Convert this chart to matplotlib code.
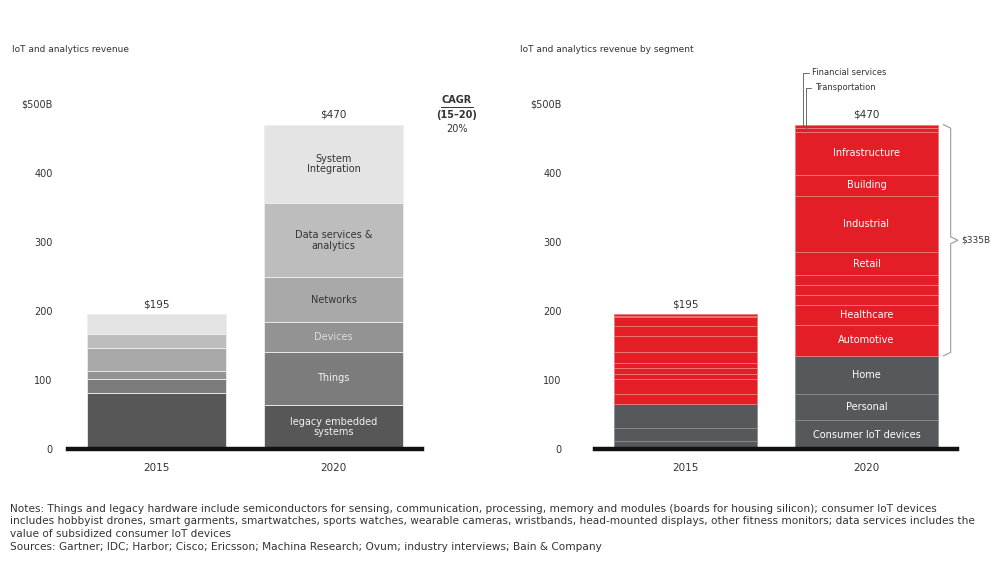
import matplotlib
matplotlib.use("Agg")
import matplotlib.pyplot as plt
import numpy as np

plt.rcParams['font.family'] = ['DejaVu Sans']

years = ["2015", "2020"]
totals = [195, 470]

# Left chart: revenue by layer (bottom -> top)
tech_layers = ["legacy embedded\nsystems", "Things", "Devices", "Networks",
               "Data services &\nanalytics", "System\nIntegration"]
tech_2015 = [81, 20, 12, 33, 21, 28]
tech_2020 = [64, 77, 43, 65, 107, 114]
tech_colors = ["#575757", "#7c7c7c", "#939393", "#a9a9a9", "#bdbdbd", "#e4e4e4"]
tech_text_colors = ["#f2f2f2", "#f2f2f2", "#dcdcdc", "#333333", "#333333", "#333333"]

# Right chart: revenue by segment (bottom -> top)
seg_labels = ["Consumer IoT devices", "Personal", "Home", "Automotive", "Healthcare",
              "", "", "", "Retail", "Industrial", "Building", "Infrastructure",
              "Transportation", "Financial services"]
seg_2015 = [12, 18, 35, 14, 22, 8, 8, 8, 15, 24, 14, 13, 2, 2]
seg_2020 = [42, 38, 55, 45, 29, 14, 14, 15, 33, 82, 30, 63, 5, 5]
seg_is_consumer = [True, True, True] + [False] * 11

yticks = [0, 100, 200, 300, 400, 500]
ytick_labels = ["0", "100", "200", "300", "400", "$500B"]

W, H = 998, 569
fig = plt.figure(figsize=(W / 100, H / 100), dpi=100)
fig.patch.set_facecolor("white")

def px_axes(x0, x1, y_base, y_top):
    return fig.add_axes([x0 / W, (H - y_base) / H, (x1 - x0) / W, (y_base - y_top) / H])

axL = px_axes(68, 422, 449, 104)
axR = px_axes(595, 957, 449, 104)

TXT = "#333333"
width = 0.79
x = np.arange(len(years))

def style(ax, pad):
    ax.set_xlim(-0.5, 1.5)
    ax.set_ylim(0, 500)
    for s in ["top", "right", "left"]:
        ax.spines[s].set_visible(False)
    ax.spines["bottom"].set_linewidth(3.2)
    ax.spines["bottom"].set_color("#111111")
    ax.set_yticks(yticks)
    ax.set_yticklabels(ytick_labels, fontsize=7, color=TXT)
    ax.set_xticks(x)
    ax.set_xticklabels(years, fontsize=7.5, color=TXT)
    ax.tick_params(axis="y", length=0, pad=pad)
    ax.tick_params(axis="x", length=0, pad=10)
    ax.set_facecolor("none")

style(axL, 11)
style(axR, 24)

# Left bars
for xi, vals in zip(x, [tech_2015, tech_2020]):
    bottom = 0
    for i, v in enumerate(vals):
        axL.bar(xi, v, width, bottom=bottom, color=tech_colors[i],
                edgecolor="#eeeeee", linewidth=0.6)
        if xi == 1:
            axL.text(xi, bottom + v / 2, tech_layers[i], ha="center", va="center",
                     fontsize=7, color=tech_text_colors[i], linespacing=1.1)
        bottom += v
for xi, t in zip(x, totals):
    axL.text(xi, t + 7, f"${t}", ha="center", va="bottom", fontsize=7.5, color=TXT)

# Right bars
RED = "#e41e26"
GRAY = "#55595c"
for xi, vals in zip(x, [seg_2015, seg_2020]):
    bottom = 0
    for i, v in enumerate(vals):
        col = GRAY if seg_is_consumer[i] else RED
        axR.bar(xi, v, width, bottom=bottom, color=col,
                edgecolor="#f07a7a" if not seg_is_consumer[i] else "#8a8d90",
                linewidth=0.6)
        if xi == 1 and seg_labels[i] and i < 12:
            axR.text(xi, bottom + v / 2, seg_labels[i], ha="center", va="center",
                     fontsize=7, color="white")
        bottom += v
for xi, t in zip(x, totals):
    axR.text(xi, t + 7, f"${t}", ha="center", va="bottom", fontsize=7.5, color=TXT)

# Leader lines for the thin top segments
top_cum = np.cumsum(seg_2020)
left_edge = 1 - width / 2
for k, (lbl_y, xoff) in enumerate([(73, 0.045), (88, 0.06)]):
    seg_idx = 13 - k
    y_data = (449 - lbl_y) / 0.69
    axR.plot([left_edge + xoff + 0.03, left_edge + xoff, left_edge + xoff],
             [y_data, y_data, top_cum[seg_idx] - seg_2020[seg_idx] / 2],
             color="#555555", lw=0.6, clip_on=False)
    axR.text(left_edge + xoff + 0.05, y_data, seg_labels[seg_idx], ha="left",
             va="center", fontsize=6, color=TXT)

# Curly bracket for non-consumer total
consumer_total = sum(seg_2020[:3])
bx = 1 + width / 2 + 0.03
lo, hi = consumer_total, totals[1]
mid = (lo + hi) / 2
axR.plot([bx, bx + 0.04, bx + 0.04, bx + 0.08, bx + 0.04, bx + 0.04, bx],
         [hi, hi - 5, mid + 5, mid, mid - 5, lo + 5, lo],
         color="#999999", lw=0.8, clip_on=False)
axR.text(bx + 0.1, mid, f"${hi - lo}B", ha="left", va="center", fontsize=6.5,
         color=TXT, clip_on=False)

# Titles
fig.text(12 / W, 1 - 50 / H, "IoT and analytics revenue", fontsize=6.5, color=TXT,
         ha="left", va="center")
fig.text(520 / W, 1 - 50 / H, "IoT and analytics revenue by segment", fontsize=6.5,
         color=TXT, ha="left", va="center")

# CAGR
fig.text(457 / W, 1 - 100 / H, "CAGR", fontsize=7, fontweight="bold", color=TXT,
         ha="center", va="center")
fig.add_artist(plt.Line2D([441 / W, 473 / W], [1 - 107 / H, 1 - 107 / H],
                          color=TXT, lw=0.7))
fig.text(457 / W, 1 - 115 / H, "(15–20)", fontsize=7, fontweight="bold", color=TXT,
         ha="center", va="center")
fig.text(457 / W, 1 - 129 / H, "20%", fontsize=7, color=TXT, ha="center", va="center")

# Notes
notes = [
    "Notes: Things and legacy hardware include semiconductors for sensing, communication, processing, memory and modules (boards for housing silicon); consumer IoT devices",
    "includes hobbyist drones, smart garments, smartwatches, sports watches, wearable cameras, wristbands, head-mounted displays, other fitness monitors; data services includes the",
    "value of subsidized consumer IoT devices",
    "Sources: Gartner; IDC; Harbor; Cisco; Ericsson; Machina Research; Ovum; industry interviews; Bain & Company",
]
for i, line in enumerate(notes):
    fig.text(10 / W, 1 - (509 + i * 12.5) / H, line, fontsize=7.6, color=TXT,
             ha="left", va="center")

fig.savefig("out.png", dpi=100)
